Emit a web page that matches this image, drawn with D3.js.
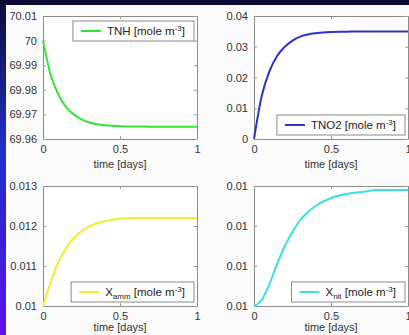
<!DOCTYPE html>
<html>
<head>
<meta charset="utf-8">
<script src="https://cdn.jsdelivr.net/npm/d3@7"></script>
<style>
  body { margin: 0; background: #fff; }
  svg { display: block; font-family: "Liberation Sans", Arial, sans-serif; }
  .tick text { fill: #333; font-size: 11px; }
</style>
</head>
<body>
<div id="chart"></div>
<script>
// sample times (days)
var times = [0, 0.05, 0.1, 0.15, 0.2, 0.25, 0.3, 0.35, 0.4, 0.5, 0.6, 0.7, 0.8, 0.9, 1.0];

// series values
var tnh  = [70.0, 69.986, 69.978, 69.973, 69.970, 69.968, 69.9667, 69.966, 69.9656, 69.9652, 69.9651, 69.965, 69.965, 69.965, 69.965];
var tno2 = [0, 0.014, 0.022, 0.027, 0.030, 0.032, 0.0333, 0.0340, 0.0344, 0.0348, 0.0349, 0.035, 0.035, 0.035, 0.035];
var xamm = [0.0100, 0.0106, 0.0111, 0.01145, 0.0117, 0.01187, 0.01199, 0.01207, 0.01212, 0.01218, 0.0122, 0.0122, 0.0122, 0.0122, 0.0122];
var xnit = [0.01000, 0.01003, 0.01011, 0.01021, 0.01030, 0.01037, 0.01043, 0.01047, 0.01050, 0.01054, 0.01056, 0.01057, 0.01058, 0.01058, 0.01058];

// axis ticks
var xTicks = [0, 0.5, 1];
var tnhTicks  = [69.96, 69.97, 69.98, 69.99, 70.0, 70.01];
var tno2Ticks = [0, 0.01, 0.02, 0.03, 0.04];
var xammTicks = [0.010, 0.011, 0.012, 0.013];
var xnitTicks = [0.0100, 0.0102, 0.0104, 0.0106];

var svgWidth = 409;
var svgHeight = 335;

var svg = d3.select("#chart")
  .append("svg")
  .attr("width", svgWidth)
  .attr("height", svgHeight);

// slide background: dark strip on top, blue gradient on the left
var defs = svg.append("defs");
var grad = defs.append("linearGradient")
  .attr("id", "side")
  .attr("x1", 0).attr("y1", 0).attr("x2", 0).attr("y2", 1);
grad.append("stop").attr("offset", "0%").attr("stop-color", "#0c0c3a");
grad.append("stop").attr("offset", "45%").attr("stop-color", "#2430c8");
grad.append("stop").attr("offset", "100%").attr("stop-color", "#5a12e2");

svg.append("rect")
  .attr("width", svgWidth).attr("height", svgHeight)
  .attr("fill", "url(#side)");
svg.append("rect")
  .attr("width", svgWidth).attr("height", 5)
  .attr("fill", "#0b0b33");
svg.append("rect")
  .attr("x", 6).attr("y", 5)
  .attr("width", svgWidth - 6).attr("height", svgHeight - 5)
  .attr("fill", "#fbfbfb");

var panels = [
  { values: tnh,  ticks: tnhTicks,  color: "#36e236", name: "TNH",  sub: null,  legend: "top",
    box: { left: 43,  right: 197, top: 16,  bottom: 139 }, xlab: 29 },
  { values: tno2, ticks: tno2Ticks, color: "#3030cc", name: "TNO2", sub: null,  legend: "bottom",
    box: { left: 254, right: 408, top: 16,  bottom: 139 }, xlab: 29 },
  { values: xamm, ticks: xammTicks, color: "#eeee2a", name: "X",    sub: "amm", legend: "bottom",
    box: { left: 43,  right: 197, top: 186, bottom: 306 }, xlab: 25 },
  { values: xnit, ticks: xnitTicks, color: "#38e0e0", name: "X",    sub: "nit", legend: "bottom",
    box: { left: 254, right: 408, top: 186, bottom: 306 }, xlab: 25, fmt: d3.format(".2f") }
];

panels.forEach(function(p) {
  var b = p.box;
  var w = b.right - b.left;
  var h = b.bottom - b.top;

  var g = svg.append("g")
    .attr("transform", `translate(${b.left}, ${b.top})`);

  var xScale = d3.scaleLinear().domain([0, 1]).range([0, w]);
  var yScale = d3.scaleLinear()
    .domain([p.ticks[0], p.ticks[p.ticks.length - 1]])
    .range([h, 0]);

  g.append("rect")
    .attr("width", w).attr("height", h)
    .attr("fill", "#ffffff");

  var fmt = p.fmt || d3.format("~g");

  // bottom + left axes with labels, ticks pointing inward
  var bottom = g.append("g")
    .attr("transform", `translate(0, ${h})`)
    .call(d3.axisBottom(xScale).tickValues(xTicks).tickFormat(d3.format("~g"))
      .tickSizeInner(-3).tickSizeOuter(0).tickPadding(6));
  var left = g.append("g")
    .call(d3.axisLeft(yScale).tickValues(p.ticks).tickFormat(fmt)
      .tickSizeInner(-3).tickSizeOuter(0).tickPadding(6));
  // top + right axes, ticks only
  var top = g.append("g")
    .call(d3.axisTop(xScale).tickValues(xTicks).tickFormat("")
      .tickSizeInner(-3).tickSizeOuter(0));
  var right = g.append("g")
    .attr("transform", `translate(${w}, 0)`)
    .call(d3.axisRight(yScale).tickValues(p.ticks).tickFormat("")
      .tickSizeInner(-3).tickSizeOuter(0));

  [bottom, left, top, right].forEach(function(a) {
    a.select(".domain").attr("stroke", "#8a8a8a");
    a.selectAll(".tick line").attr("stroke", "#9a9a9a");
    a.selectAll("text").attr("font-family", null).attr("fill", "#333");
  });

  // curve
  var line = d3.line()
    .x(function(d, i) { return xScale(times[i]); })
    .y(function(d) { return yScale(d); })
    .curve(d3.curveMonotoneX);

  g.append("path")
    .datum(p.values)
    .attr("d", line)
    .attr("fill", "none")
    .attr("stroke", p.color)
    .attr("stroke-width", 2);

  // x label
  g.append("text")
    .attr("x", w / 2)
    .attr("y", h + p.xlab)
    .attr("text-anchor", "middle")
    .attr("font-size", "11px")
    .attr("fill", "#333")
    .text("time [days]");

  // legend
  var leg = g.append("g");
  var legBox = leg.append("rect")
    .attr("fill", "#fff")
    .attr("stroke", "#8a8a8a");
  leg.append("line")
    .attr("x1", 8).attr("x2", 28)
    .attr("y1", 10).attr("y2", 10)
    .attr("stroke", p.color)
    .attr("stroke-width", 2);
  var label = leg.append("text")
    .attr("x", 34).attr("y", 14)
    .attr("font-size", "11.5px")
    .attr("fill", "#222");
  label.append("tspan").text(p.name);
  if (p.sub) {
    label.append("tspan").attr("font-size", "8px").attr("dy", 3).text(p.sub);
    label.append("tspan").attr("dy", -3).text(" [mole m");
  } else {
    label.append("tspan").text(" [mole m");
  }
  label.append("tspan").attr("font-size", "8px").attr("dy", -4).text("-3");
  label.append("tspan").attr("dy", 4).text("]");

  var tw = label.node().getComputedTextLength();
  var legW = 34 + tw + 9;
  var legH = 20;
  legBox.attr("width", legW).attr("height", legH);
  var lx = w - 3 - legW;
  var ly = p.legend === "top" ? 5 : h - 4 - legH;
  leg.attr("transform", `translate(${lx}, ${ly})`);
});
</script>
</body>
</html>
